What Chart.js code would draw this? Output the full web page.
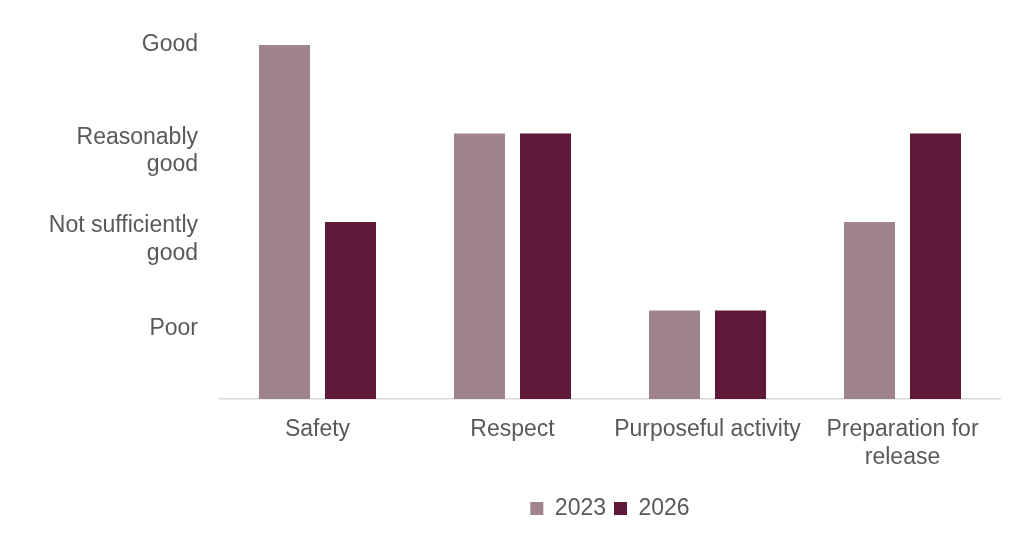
<!DOCTYPE html>
<html lang="en">
<head>
    <meta charset="UTF-8">
    <title>Ratings 2023 vs 2026</title>
    <style>
        body {
            margin: 0;
            padding: 0;
            background: #ffffff;
        }
        .chart-container {
            position: relative;
            width: 1024px;
            height: 538px;
        }
    </style>
    <script src="https://cdn.jsdelivr.net/npm/chart.js"></script>
</head>
<body>
    <div class="chart-container">
        <canvas id="ratingsChart"></canvas>
    </div>
    <script>
        // categories and scores (1 = Poor ... 4 = Good)
        const categories = ['Safety', 'Respect', 'Purposeful activity', ['Preparation for', 'release']];
        const values2023 = [4, 3, 1, 2];
        const values2026 = [2, 3, 1, 3];

        // y tick labels and where they sit on the score scale
        const ratingLabels = ['Poor', ['Not sufficiently', 'good'], ['Reasonably', 'good'], 'Good'];
        const ratingTicks = [0.8, 1.8, 2.8, 4];

        const textColor = '#595959';
        const font = { family: "'Liberation Sans', Arial, sans-serif", size: 23 };

        const ctx = document.getElementById('ratingsChart').getContext('2d');
        new Chart(ctx, {
            type: 'bar',
            data: {
                labels: categories,
                datasets: [
                    {
                        label: '2023',
                        data: values2023,
                        backgroundColor: '#a0848b'
                    },
                    {
                        label: '2026',
                        data: values2026,
                        backgroundColor: '#5e1838'
                    }
                ]
            },
            options: {
                responsive: true,
                maintainAspectRatio: false,
                animation: false,
                layout: {
                    padding: { top: 45, right: 24, bottom: 8, left: 0 }
                },
                datasets: {
                    bar: {
                        categoryPercentage: 0.677,
                        barPercentage: 0.773
                    }
                },
                scales: {
                    x: {
                        grid: { display: false, drawTicks: false },
                        border: { display: true, color: '#d9d9d9', width: 1.5 },
                        ticks: {
                            color: textColor,
                            font: font,
                            padding: 17,
                            maxRotation: 0,
                            autoSkip: false
                        },
                        afterFit: scale => { scale.height = 90; }
                    },
                    y: {
                        min: 0,
                        max: 4,
                        grid: { display: false, drawTicks: false },
                        border: { display: false },
                        afterBuildTicks: scale => {
                            scale.ticks = ratingTicks.map(v => ({ value: v }));
                        },
                        ticks: {
                            color: textColor,
                            font: font,
                            padding: 22,
                            callback: (value, index) => ratingLabels[index]
                        },
                        afterFit: scale => { scale.width = 220; }
                    }
                },
                plugins: {
                    legend: {
                        display: true,
                        position: 'bottom',
                        fullSize: false,
                        labels: {
                            color: textColor,
                            font: font,
                            boxWidth: 13,
                            boxHeight: 13,
                            padding: 8
                        }
                    },
                    tooltip: { enabled: false }
                }
            }
        });
    </script>
</body>
</html>
